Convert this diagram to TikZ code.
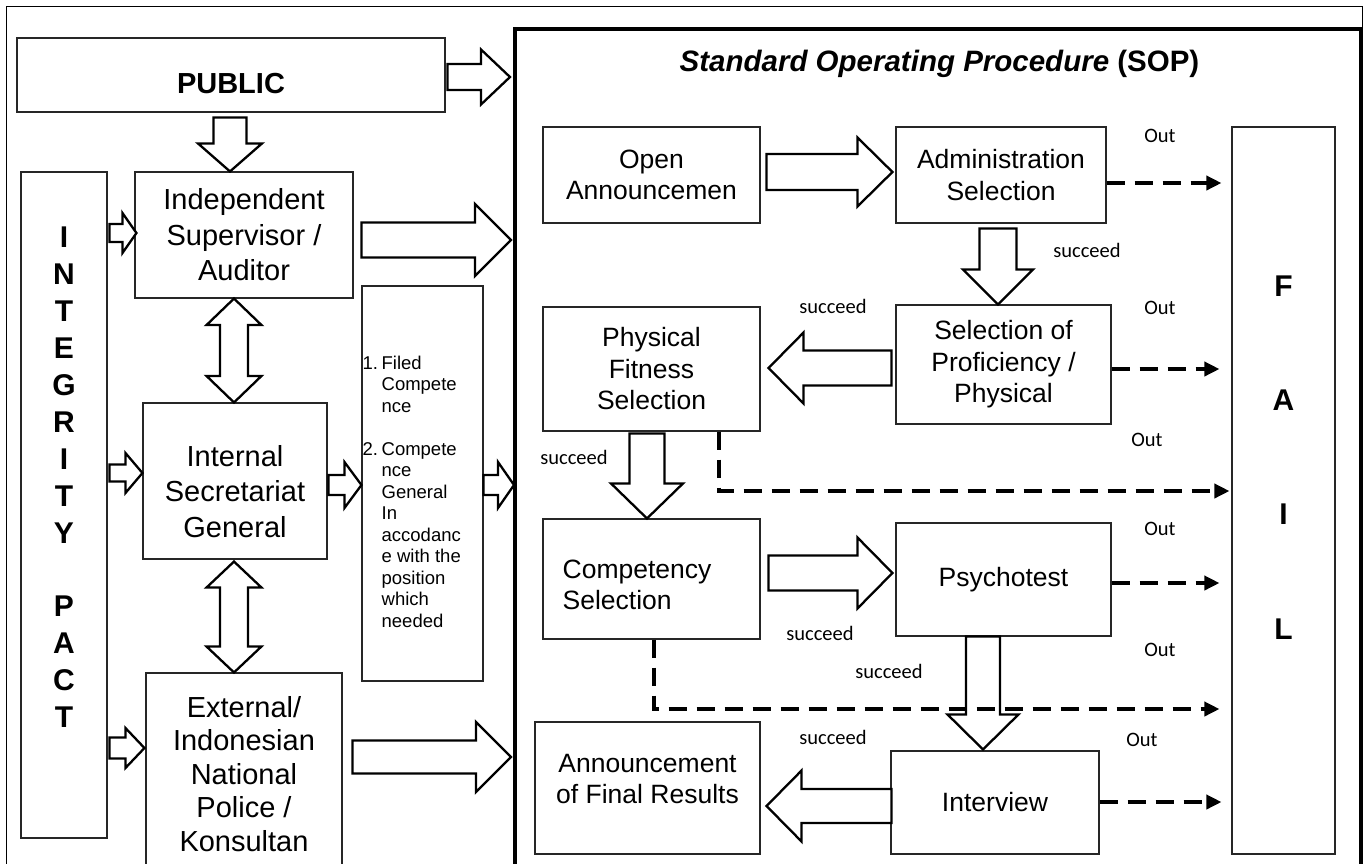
\documentclass[tikz,border=0pt]{standalone}
\usepackage{fontspec}
\setmainfont{Liberation Sans}
\newfontfamily\calib{Carlito}
\usetikzlibrary{calc,arrows.meta}
\tikzset{
  bx/.style n args={2}{draw=black!85, line width=1.1pt, inner sep=0pt, minimum width=#1, minimum height=#2, align=center},
  lfont/.style={font=\fontsize{29}{35.5}\selectfont},
  sfont/.style={font=\fontsize{26.5}{31.5}\selectfont},
  lab/.style={font=\calib\fontsize{20.5}{24}\selectfont, inner sep=0pt},
  blk/.style={draw=black, line width=2.3pt, fill=white, line join=miter},
  dsh/.style={line width=3.5pt, dash pattern=on 18pt off 10pt, -{Triangle[length=15pt,width=14pt]}},
  barrow/.style n args={3}{to path={
    let \p1=(\tikztostart), \p2=(\tikztotarget),
        \n1={veclen(\x2-\x1,\y2-\y1)},
        \n2={(\x2-\x1)/\n1}, \n3={(\y2-\y1)/\n1} in
    ({\x1-(\n3)*(#1)},{\y1+(\n2)*(#1)})
    -- ({\x1+(\n2)*(\n1-#3)-(\n3)*(#1)},{\y1+(\n3)*(\n1-#3)+(\n2)*(#1)})
    -- ({\x1+(\n2)*(\n1-#3)-(\n3)*(#2)},{\y1+(\n3)*(\n1-#3)+(\n2)*(#2)})
    -- (\x2,\y2)
    -- ({\x1+(\n2)*(\n1-#3)+(\n3)*(#2)},{\y1+(\n3)*(\n1-#3)-(\n2)*(#2)})
    -- ({\x1+(\n2)*(\n1-#3)+(\n3)*(#1)},{\y1+(\n3)*(\n1-#3)-(\n2)*(#1)})
    -- ({\x1+(\n3)*(#1)},{\y1-(\n2)*(#1)})
    -- cycle}},
  dbarrow/.style n args={3}{to path={
    let \p1=(\tikztostart), \p2=(\tikztotarget),
        \n1={veclen(\x2-\x1,\y2-\y1)},
        \n2={(\x2-\x1)/\n1}, \n3={(\y2-\y1)/\n1} in
    (\x1,\y1)
    -- ({\x1+(\n2)*(#3)-(\n3)*(#2)},{\y1+(\n3)*(#3)+(\n2)*(#2)})
    -- ({\x1+(\n2)*(#3)-(\n3)*(#1)},{\y1+(\n3)*(#3)+(\n2)*(#1)})
    -- ({\x1+(\n2)*(\n1-#3)-(\n3)*(#1)},{\y1+(\n3)*(\n1-#3)+(\n2)*(#1)})
    -- ({\x1+(\n2)*(\n1-#3)-(\n3)*(#2)},{\y1+(\n3)*(\n1-#3)+(\n2)*(#2)})
    -- (\x2,\y2)
    -- ({\x1+(\n2)*(\n1-#3)+(\n3)*(#2)},{\y1+(\n3)*(\n1-#3)-(\n2)*(#2)})
    -- ({\x1+(\n2)*(\n1-#3)+(\n3)*(#1)},{\y1+(\n3)*(\n1-#3)-(\n2)*(#1)})
    -- ({\x1+(\n2)*(#3)+(\n3)*(#1)},{\y1+(\n3)*(#3)-(\n2)*(#1)})
    -- ({\x1+(\n2)*(#3)+(\n3)*(#2)},{\y1+(\n3)*(#3)-(\n2)*(#2)})
    -- cycle}}
}
\begin{document}
\begin{tikzpicture}[x=1pt,y=-1pt]
\useasboundingbox (0,0) rectangle (1368,863);
\clip (0,0) rectangle (1368,863);
\draw[line width=1pt] (6,6) rectangle (1362,900);

% left column
\node[bx={428pt}{74pt}, font=\bfseries\fontsize{29}{35}\selectfont, text height=36pt, text depth=0pt] (pub) at (231,75) {PUBLIC};
\node[bx={86pt}{666pt}, label={[font=\bfseries\fontsize{30}{36.9}\selectfont, align=center, yshift=27.5pt]center:{I\\N\\T\\E\\G\\R\\I\\T\\Y\\[36.9pt]P\\A\\C\\T}}] (integ) at (64,505) {};
\node[bx={218pt}{126pt}, lfont] (ind) at (244,235) {Independent\\Supervisor /\\Auditor};
\node[bx={184pt}{156pt}, label={[lfont, align=center, yshift=-10.5pt]center:{Internal\\Secretariat\\General}}] (intl) at (235,481) {};
\node[bx={196pt}{202pt}, font=\fontsize{29}{33.5}\selectfont] (ext) at (244,774) {External/\\Indonesian\\National\\Police /\\Konsultan};
\node[bx={121pt}{395pt}, label={[anchor=west, align=left, font=\fontsize{18.5}{21.5}\selectfont, inner sep=0pt, xshift=1pt, yshift=-8pt]west:{%
\makebox[19pt][l]{1.}Filed\\
\hspace*{19pt}Compete\\
\hspace*{19pt}nce\\[21.5pt]
\makebox[19pt][l]{2.}Compete\\
\hspace*{19pt}nce\\
\hspace*{19pt}General\\
\hspace*{19pt}In\\
\hspace*{19pt}accodanc\\
\hspace*{19pt}e with the\\
\hspace*{19pt}position\\
\hspace*{19pt}which\\
\hspace*{19pt}needed}}] (cmpt) at (422.5,483.5) {};

% SOP frame
\node[draw, line width=4pt, inner sep=0pt, minimum width=846pt, minimum height=871pt] (sop) at (938,464.5) {};
\node[anchor=base, font=\bfseries\fontsize{29.5}{35}\selectfont, inner sep=0pt] (title) at (939.5,71) {\textit{Standard Operating Procedure} (SOP)};

\node[bx={217pt}{96pt}, sfont] (open) at (651.5,175) {Open\\Announcemen};
\node[bx={210pt}{96pt}, sfont] (adm) at (1001,175) {Administration\\Selection};
\node[bx={103pt}{727pt}, label={[font=\bfseries\fontsize{30}{114.3}\selectfont, align=center, yshift=33pt]center:{F\\A\\I\\L}}] (fail) at (1283.5,490.5) {};
\node[bx={215pt}{119pt}, sfont] (prof) at (1003.5,364.5) {Selection of\\Proficiency /\\Physical};
\node[bx={217pt}{124pt}, sfont] (phys) at (651.5,369) {Physical\\Fitness\\Selection};
\node[bx={217pt}{120pt}, label={[sfont, anchor=west, align=left, inner sep=0pt, xshift=20pt, yshift=-6pt]west:{Competency\\Selection}}] (cmp) at (651.5,579) {};
\node[bx={215pt}{113pt}, sfont] (psy) at (1003.5,579.5) {Psychotest};
\node[bx={208pt}{103pt}, sfont] (intv) at (995,802.5) {Interview};
\node[bx={225pt}{132pt}, label={[sfont, align=center, yshift=9pt]center:{Announcement\\of Final Results}}] (ann) at (647.5,788) {};

% block arrows left side
\draw[blk] ($(pub.east)+(2,2)$) to[barrow={13}{27.5}{29}] ($(sop.west |- pub.east)+(-3,2)$);
\draw[blk] ($(pub.south)+(-1,5)$) to[barrow={16.5}{32}{28}] ($(ind.north)+(-14,0)$);
\draw[blk] ($(integ.east |- ind.west)+(2,-2)$) to[barrow={9}{20}{14}] ($(ind.west)+(2,-2)$);
\draw[blk] ($(ind.east)+(8,5)$) to[barrow={17.5}{36}{36}] ($(sop.west |- ind.east)+(-2,5)$);
\draw[blk] ($(ind.south)+(-10,0)$) to[dbarrow={14}{27.5}{26.5}] ($(intl.north)+(-1,0)$);
\draw[blk] ($(integ.east |- intl.west)+(2,-8)$) to[barrow={8.5}{20}{17}] ($(intl.west)+(0,-8)$);
\draw[blk] ($(intl.east)+(1,4)$) to[barrow={10}{23}{17}] ($(cmpt.west)+(0,1.5)$);
\draw[blk] ($(cmpt.east)+(0,1.5)$) to[barrow={10}{23}{16}] ($(sop.west |- cmpt.east)+(1,1.5)$);
\draw[blk] ($(intl.south)+(-1,2)$) to[dbarrow={14}{27.5}{26}] ($(ext.north)+(-10,0)$);
\draw[blk] ($(integ.east |- ext.west)+(2,-26)$) to[barrow={10.5}{20}{19}] ($(ext.west)+(-1,-26)$);
\draw[blk] ($(ext.east)+(10,-17)$) to[barrow={16.5}{35}{35}] ($(sop.west |- ext.east)+(-2,-17)$);

% block arrows SOP
\draw[blk] ($(open.east)+(6,-3)$) to[barrow={18}{34.5}{35}] ($(adm.west)+(-3,-3)$);
\draw[blk] ($(adm.south)+(-3,5)$) to[barrow={18.5}{35}{35}] ($(prof.north)+(-5.5,0)$);
\draw[blk] ($(prof.west)+(-4,3.5)$) to[barrow={17.5}{35.5}{35}] ($(phys.east)+(8,-1)$);
\draw[blk] ($(phys.south)+(-4.5,2)$) to[barrow={17.5}{36}{35}] ($(cmp.north)+(-4.5,0)$);
\draw[blk] ($(cmp.east)+(8,-6)$) to[barrow={17.5}{35.5}{35}] ($(psy.west)+(-3,-6.5)$);
\draw[blk] ($(psy.south)+(-20.5,0)$) to[barrow={17}{35.5}{35}] ($(intv.north)+(-12,-1)$);
\draw[blk] ($(intv.west)+(1,3.5)$) to[barrow={17}{35.5}{35}] ($(ann.east)+(6,18)$);

% dashed "Out" arrows
\draw[dsh] ($(adm.east)+(0,8)$) -- ($(fail.west |- adm.east)+(-10,8)$);
\draw[dsh] ($(prof.east)+(0,4.5)$) -- ($(fail.west |- prof.east)+(-12,4.5)$);
\draw[dsh] ($(phys.south)+(67.5,0)$) |- ($(fail.west)+(-2,0.5)$);
\draw[dsh] ($(psy.east)+(0,3.5)$) -- ($(fail.west |- psy.east)+(-12,3.5)$);
\draw[dsh] ($(cmp.south)+(2.5,0)$) |- ($(fail.west)+(-12,218.5)$);
\draw[dsh] ($(intv.east)+(0,-0.5)$) -- ($(fail.west |- intv.east)+(-10,-0.5)$);

% small labels
\node[lab] (o1) at (1160,136) {Out};
\node[lab] (o2) at (1160,308) {Out};
\node[lab] (o3) at (1147,440) {Out};
\node[lab] (o4) at (1160,529) {Out};
\node[lab] (o5) at (1160,650) {Out};
\node[lab] (o6) at (1142,740) {Out};
\node[lab] (s1) at (1087,250) {succeed};
\node[lab] (s2) at (833,306) {succeed};
\node[lab] (s3) at (574,457) {succeed};
\node[lab] (s4) at (820,633) {succeed};
\node[lab] (s5) at (889,671) {succeed};
\node[lab] (s6) at (833,737) {succeed};
\end{tikzpicture}
\end{document}
